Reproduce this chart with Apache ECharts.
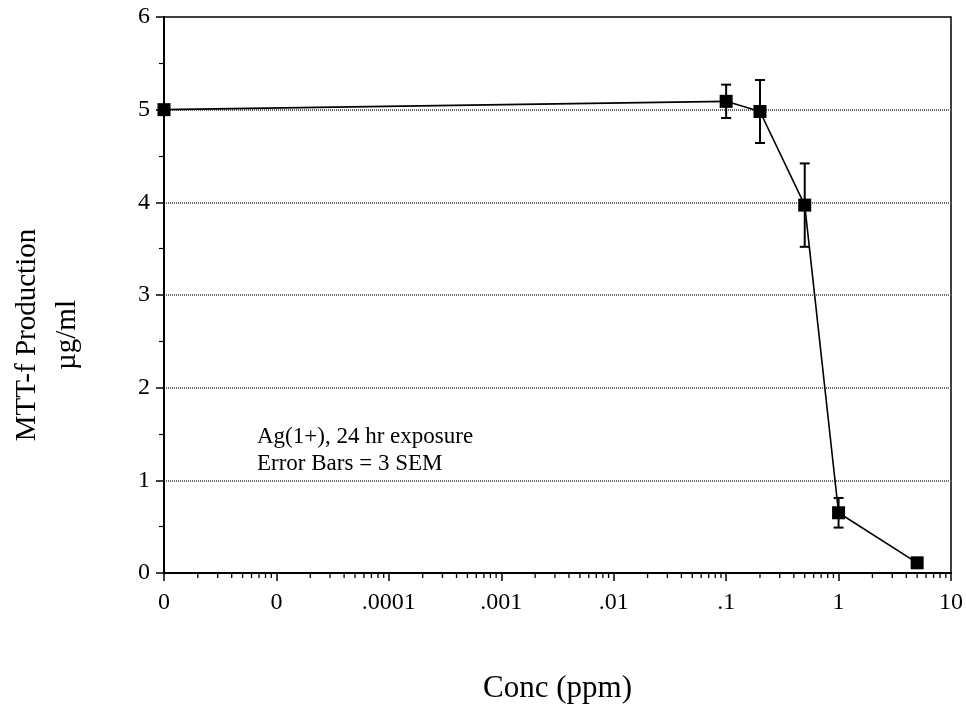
<!DOCTYPE html>
<html>
<head>
<meta charset="utf-8">
<script src="https://cdn.jsdelivr.net/npm/echarts@6/dist/echarts.min.js"></script>
<style>
html,body{margin:0;padding:0;background:#fff;}
#chart{width:966px;height:710px;}
</style>
</head>
<body>
<div id="chart"></div>
<script>
// ---- data ----
const concPpm   = [0.000001, 0.1, 0.2, 0.5, 1, 5];
const mttValues = [5.0, 5.09, 4.98, 3.97, 0.65, 0.11];
const errValues = [0.03, 0.18, 0.34, 0.45, 0.16, 0.03];
const xTickLabels = ['0', '0', '.0001', '.001', '.01', '.1', '1', '10'];
const yTickValues = [0, 1, 2, 3, 4, 5, 6];
const xTitle = 'Conc (ppm)';
const yTitleLines = ['MTT-f Production', 'µg/ml'];
const noteLines = ['Ag(1+), 24 hr exposure', 'Error Bars = 3 SEM'];

const FONT = "'Liberation Serif','Times New Roman',serif";

// minor tick positions of the log axis (2..9 in each decade)
const xMinorTicks = [];
for (let k = -6; k <= 0; k++) {
  for (let m = 2; m <= 9; m++) xMinorTicks.push(m * Math.pow(10, k));
}

const lineData = concPpm.map((x, i) => [x, mttValues[i]]);
const errData = concPpm.map((x, i) => [x, mttValues[i], errValues[i]]);

const chart = echarts.init(document.getElementById('chart'), null, {renderer: 'canvas'});

chart.setOption({
  backgroundColor: '#fff',
  animation: false,
  grid: {
    left: 164, right: 13, top: 17, bottom: 137,
    show: true, borderColor: '#000', borderWidth: 1.5, backgroundColor: 'transparent'
  },
  xAxis: {
    type: 'log',
    logBase: 10,
    min: 1e-6,
    max: 10,
    name: xTitle,
    nameLocation: 'middle',
    nameGap: 100,
    nameTextStyle: {fontFamily: FONT, fontSize: 31, color: '#000'},
    axisLine: {show: true, lineStyle: {color: '#000', width: 2}},
    axisTick: {show: true, inside: false, length: 8, lineStyle: {color: '#000', width: 1.5}},
    axisLabel: {
      fontFamily: FONT, fontSize: 24, color: '#000', margin: 18,
      formatter: function (v) {
        const idx = Math.round(Math.log10(v)) + 6;
        return xTickLabels[idx] !== undefined ? xTickLabels[idx] : '';
      }
    },
    splitLine: {show: false},
    minorTick: {show: false}
  },
  yAxis: {
    type: 'value',
    min: 0,
    max: 6,
    interval: 1,
    axisLine: {show: true, lineStyle: {color: '#000', width: 2}},
    axisTick: {show: true, inside: false, length: 8, lineStyle: {color: '#000', width: 1.5}},
    minorTick: {show: true, splitNumber: 2, length: 5, lineStyle: {color: '#000', width: 1.2}},
    axisLabel: {
      fontFamily: FONT, fontSize: 24, color: '#000', margin: 14,
      formatter: function (v) { return yTickValues.indexOf(v) >= 0 ? String(v) : ''; }
    },
    splitLine: {
      show: true, showMinLine: false, showMaxLine: false,
      lineStyle: {color: '#666', width: 2, type: [1, 1]}
    }
  },
  graphic: [
    {
      type: 'text',
      left: 257, top: 423,
      style: {
        text: noteLines.join('\n'),
        fontFamily: FONT, fontSize: 23, lineHeight: 27, fill: '#000'
      }
    },
    {
      type: 'text',
      x: 47, y: 335,
      rotation: Math.PI / 2,
      style: {
        text: yTitleLines.join('\n'),
        fontFamily: FONT, fontSize: 29, lineHeight: 40, fill: '#000',
        align: 'center', verticalAlign: 'middle'
      }
    }
  ],
  series: [
    {
      type: 'custom',
      name: 'minorTicks',
      data: xMinorTicks.map(v => [v, 0]),
      clip: false,
      silent: true,
      z: 5,
      renderItem: function (params, api) {
        const p = api.coord([api.value(0), api.value(1)]);
        return {
          type: 'line',
          shape: {x1: p[0], y1: p[1], x2: p[0], y2: p[1] + 5},
          style: {stroke: '#000', lineWidth: 1.3}
        };
      }
    },
    {
      type: 'custom',
      name: 'errorBars',
      data: errData,
      z: 8,
      renderItem: function (params, api) {
        const x = api.value(0), y = api.value(1), e = api.value(2);
        const top = api.coord([x, y + e]);
        const bot = api.coord([x, y - e]);
        const hw = 5;
        return {
          type: 'group',
          children: [
            {type: 'line', shape: {x1: top[0], y1: top[1], x2: bot[0], y2: bot[1]}, style: {stroke: '#000', lineWidth: 2}},
            {type: 'line', shape: {x1: top[0] - hw, y1: top[1], x2: top[0] + hw, y2: top[1]}, style: {stroke: '#000', lineWidth: 2}},
            {type: 'line', shape: {x1: bot[0] - hw, y1: bot[1], x2: bot[0] + hw, y2: bot[1]}, style: {stroke: '#000', lineWidth: 2}}
          ]
        };
      }
    },
    {
      type: 'line',
      name: 'MTT-f',
      data: lineData,
      z: 10,
      clip: false,
      symbol: 'rect',
      symbolSize: 13,
      lineStyle: {color: '#000', width: 1.6},
      itemStyle: {color: '#000', borderWidth: 0},
      emphasis: {disabled: true}
    }
  ]
});
</script>
</body>
</html>
